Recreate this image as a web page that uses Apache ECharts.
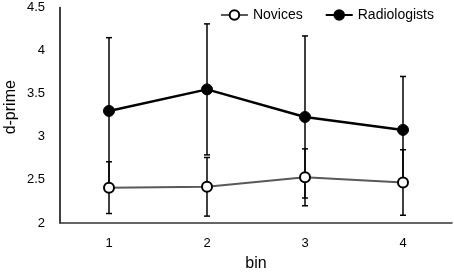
<!DOCTYPE html>
<html>
<head>
<meta charset="utf-8">
<script src="https://cdn.jsdelivr.net/npm/echarts@6/dist/echarts.min.js"></script>
<style>
  html, body { margin: 0; padding: 0; background: #fff; }
  #chart { width: 454px; height: 273px; }
</style>
</head>
<body>
<div id="chart"></div>
<script>
let bins = ['1', '2', '3', '4'];
let novices = [2.41, 2.42, 2.53, 2.47];
let noviceErr = [0.30, 0.34, 0.33, 0.38];
let radiologists = [3.30, 3.55, 3.23, 3.08];
let radiologistErr = [0.85, 0.76, 0.94, 0.62];

let myChart = echarts.init(document.getElementById('chart'));
let font = 'Liberation Sans';

function errorData(vals, errs) {
	return vals.map(function(v, i) {
		return [i, v - errs[i], v + errs[i]];
	});
}

function renderError(params, api) {
	let x = api.value(0);
	let lo = api.coord([x, api.value(1)]);
	let hi = api.coord([x, api.value(2)]);
	let w = 3;
	let style = { stroke: '#000', lineWidth: 1.5 };
	return {
		type: 'group',
		children: [
			{ type: 'line', shape: { x1: lo[0], y1: lo[1], x2: hi[0], y2: hi[1] }, style: style },
			{ type: 'line', shape: { x1: lo[0] - w, y1: lo[1], x2: lo[0] + w, y2: lo[1] }, style: style },
			{ type: 'line', shape: { x1: hi[0] - w, y1: hi[1], x2: hi[0] + w, y2: hi[1] }, style: style }
		]
	};
}

let option = {
	animation: false,
	textStyle: { fontFamily: font },
	grid: { left: 60, right: 2, top: 7.5, bottom: 50, containLabel: false, outerBoundsMode: 'none' },
	legend: {
		top: 3,
		right: 15,
		itemWidth: 27,
		itemHeight: 12,
		itemGap: 22,
		textStyle: { fontSize: 14, color: '#000', fontFamily: font },
		data: ['Novices', 'Radiologists']
	},
	xAxis: {
		type: 'category',
		data: bins,
		name: 'bin',
		nameLocation: 'middle',
		nameGap: 33,
		nameMoveOverlap: false,
		nameTextStyle: { fontSize: 16, color: '#000', fontFamily: font },
		axisLine: { lineStyle: { color: '#333', width: 1.5 } },
		axisTick: { show: false },
		axisLabel: { fontSize: 13, color: '#000', margin: 14 }
	},
	yAxis: {
		type: 'value',
		min: 2,
		max: 4.5,
		interval: 0.5,
		name: 'd-prime',
		nameLocation: 'middle',
		nameGap: 41,
		nameMoveOverlap: false,
		nameTextStyle: { fontSize: 16, color: '#000', fontFamily: font, padding: [0, 0, 0, 16] },
		axisLine: { show: true, lineStyle: { color: '#000', width: 1.5 } },
		axisTick: { show: false },
		splitLine: { show: false },
		axisLabel: { fontSize: 13, color: '#000', margin: 15 }
	},
	series: [
		{
			type: 'custom',
			renderItem: renderError,
			data: errorData(radiologists, radiologistErr),
			z: 1,
			silent: true
		},
		{
			type: 'custom',
			renderItem: renderError,
			data: errorData(novices, noviceErr),
			z: 1,
			silent: true
		},
		{
			name: 'Novices',
			type: 'line',
			data: novices,
			symbol: 'circle',
			symbolSize: 10,
			z: 3,
			lineStyle: { color: '#595959', width: 2 },
			itemStyle: { color: '#fff', borderColor: '#000', borderWidth: 2 }
		},
		{
			name: 'Radiologists',
			type: 'line',
			data: radiologists,
			symbol: 'circle',
			symbolSize: 11,
			z: 4,
			lineStyle: { color: '#000', width: 2.5 },
			itemStyle: { color: '#000', borderColor: '#000', borderWidth: 1 }
		}
	]
};
myChart.setOption(option);
</script>
</body>
</html>
